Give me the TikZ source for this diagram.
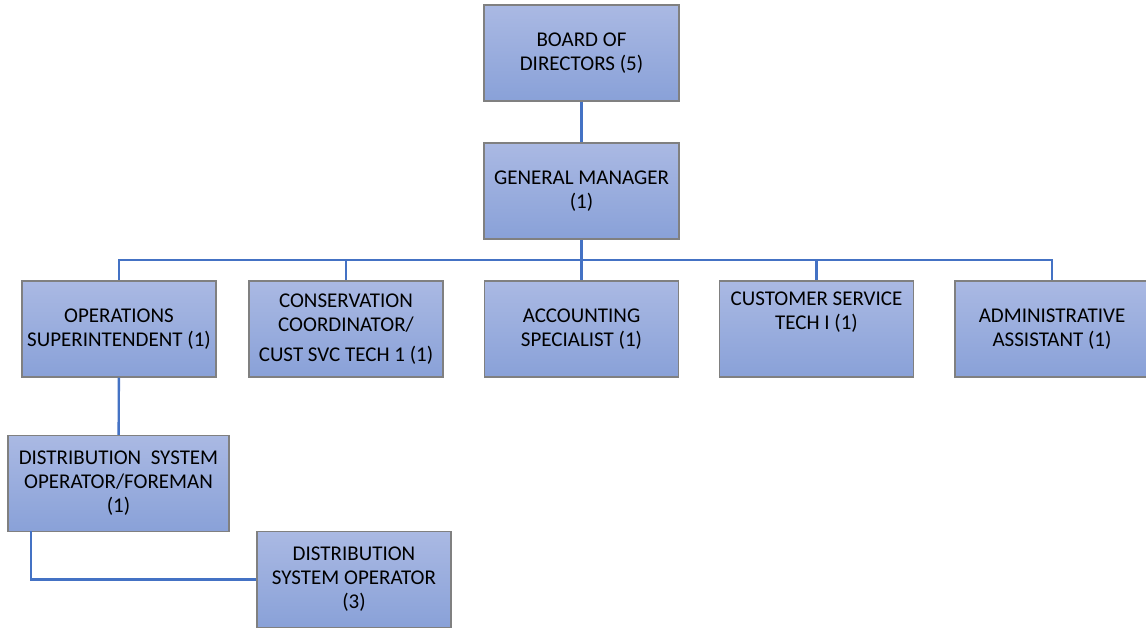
\documentclass[tikz,border=0pt]{standalone}
\usepackage{fontspec}
\setmainfont{Carlito}
\definecolor{boxtop}{RGB}{170,185,227}
\definecolor{boxbottom}{RGB}{137,161,216}
\definecolor{boxline}{RGB}{128,128,128}
\definecolor{linkblue}{RGB}{68,114,196}
\tikzset{
    orgbox/.style={draw=boxline, line width=1.2pt, top color=boxtop, bottom color=boxbottom,
        minimum width=194pt, minimum height=96pt, align=center, inner sep=2pt,
        font=\fontsize{21}{24}\selectfont},
    orglink/.style={draw=linkblue, line width=2.4pt}
}
\begin{document}
\begin{tikzpicture}[x=1pt,y=-1pt]
    \useasboundingbox (0,0) rectangle (1146,630);
    %draw top boxes
    \node[orgbox, minimum width=195pt] (board) at (581.5,53) {BOARD OF\\DIRECTORS (5)};
    \node[orgbox, minimum width=195pt] (gm) at (581.5,191) {GENERAL MANAGER\\(1)};
    %draw staff row
    \node[orgbox] (ops) at (119,329) {OPERATIONS\\SUPERINTENDENT (1)};
    \node[orgbox] (cons) at (346,329) {CONSERVATION\\COORDINATOR/\\[6pt]CUST SVC TECH 1 (1)};
    \node[orgbox] (acct) at (581.5,329) {ACCOUNTING\\SPECIALIST (1)};
    \node[orgbox] (cst) at (816.5,329) {CUSTOMER SERVICE\\TECH I (1)\\[6pt]\strut};
    \node[orgbox] (admin) at (1052,329) {ADMINISTRATIVE\\ASSISTANT (1)};
    %draw distribution boxes
    \node[orgbox, minimum width=221pt] (dsof) at (118.5,483.5) {DISTRIBUTION\ \ SYSTEM\\OPERATOR/FOREMAN\\(1)};
    \node[orgbox] (dso) at (354,579.5) {DISTRIBUTION\\SYSTEM OPERATOR\\(3)};
    %draw links
    \coordinate (bus) at (581.5,260);
    \draw[orglink] (board) -- (gm);
    \draw[orglink] (gm) -- (bus);
    \foreach \n in {ops,cons,acct,cst,admin}
        {%
            \draw[orglink] (bus) -| (\n.north);
        }
    \draw[orglink] (ops) -- (dsof);
    \coordinate (dsofout) at (31,531);
    \draw[orglink] (dsofout) |- (dso.west);
\end{tikzpicture}
\end{document}
